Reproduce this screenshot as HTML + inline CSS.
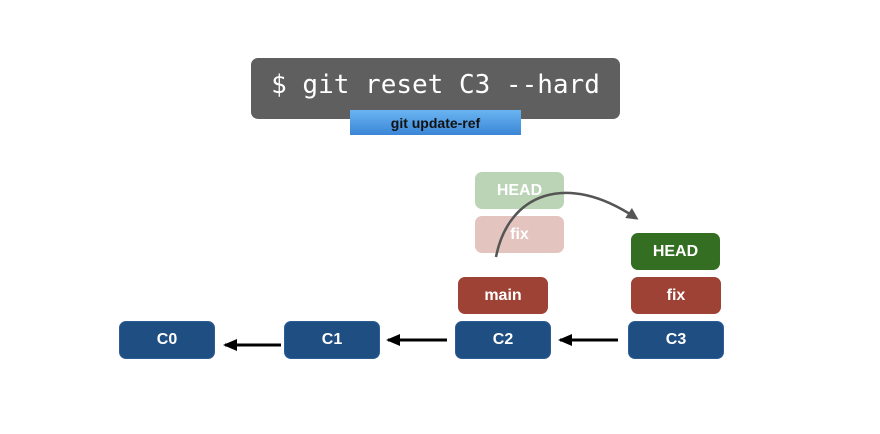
<!DOCTYPE html>
<html><head><style>
body{margin:0;width:880px;height:434px;background:#fff;position:relative;overflow:hidden;font-family:"Liberation Sans",sans-serif}
.b{position:absolute;border-radius:7px;color:#fff;font-weight:bold;font-size:16px;display:flex;align-items:center;justify-content:center;box-sizing:border-box}
.c{background:#1f4e82;height:38px;width:96px;top:321px;border:1px solid #2c5d94}
.r{background:#9e4236;height:37px;width:90px}
</style></head><body>
<div class="b" style="left:251px;top:58px;width:369px;height:61px;background:#5f5f5f;font-family:'DejaVu Sans Mono','Liberation Mono',monospace;font-weight:normal;font-size:26px;padding-bottom:7px">$ git reset C3 --hard</div>
<div class="b" style="left:350px;top:110px;width:171px;height:25px;border-radius:0;background:linear-gradient(#6ab4f2,#3a86d6);color:#111;font-size:14px">git update-ref</div>
<div class="b" style="left:475px;top:172px;width:89px;height:37px;background:#bcd4b6">HEAD</div>
<div class="b" style="left:475px;top:216px;width:89px;height:37px;background:#e3c4bf">fix</div>
<div class="b r" style="left:458px;top:277px">main</div>
<div class="b" style="left:631px;top:233px;width:89px;height:37px;background:#346e22">HEAD</div>
<div class="b r" style="left:631px;top:277px">fix</div>
<div class="b c" style="left:119px">C0</div>
<div class="b c" style="left:284px">C1</div>
<div class="b c" style="left:455px">C2</div>
<div class="b c" style="left:628px">C3</div>
<svg width="880" height="434" style="position:absolute;left:0;top:0">
<defs><marker id="a" markerWidth="14" markerHeight="12" refX="12" refY="6" orient="auto" markerUnits="userSpaceOnUse"><path d="M0,0L14,6L0,12z" fill="#000"/></marker>
<marker id="g" markerWidth="12" markerHeight="12" refX="9" refY="6" orient="auto" markerUnits="userSpaceOnUse"><path d="M0,0L12,6L0,12z" fill="#555"/></marker></defs>
<g stroke="#000" stroke-width="3"><line x1="281" y1="345" x2="225" y2="345" marker-end="url(#a)"/><line x1="447" y1="340" x2="388" y2="340" marker-end="url(#a)"/><line x1="618" y1="340" x2="560" y2="340" marker-end="url(#a)"/></g>
<path d="M496,257 C508,195 565,170 636,218" fill="none" stroke="#555" stroke-width="2.5" marker-end="url(#g)"/>
</svg>
</body></html>
